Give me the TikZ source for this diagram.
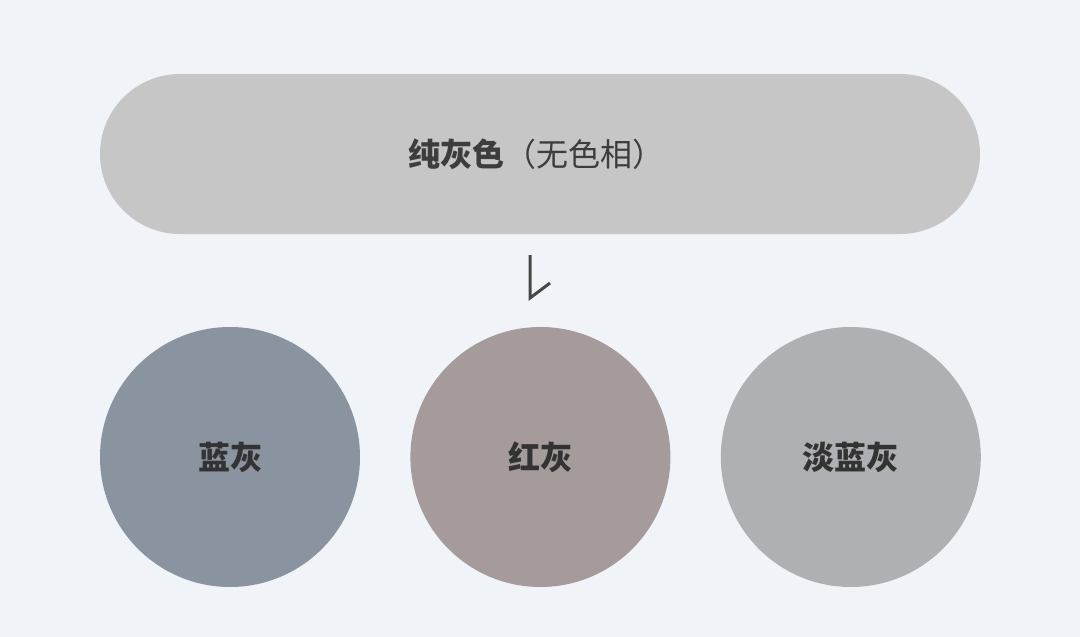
\documentclass[tikz,border=0pt]{standalone}
\usepackage{fontspec}
\usepackage{xcolor}
\usetikzlibrary{positioning}
\newfontfamily\cjk{Noto Sans CJK SC}
\definecolor{bgcol}{HTML}{F0F3F8}
\definecolor{pillcol}{HTML}{C6C6C6}
\definecolor{bluegray}{HTML}{8A93A0}
\definecolor{redgray}{HTML}{A59B9B}
\definecolor{lightgray}{HTML}{AFB0B3}
\definecolor{inkcol}{HTML}{333333}

\begin{document}
\begin{tikzpicture}[x=1pt,y=-1pt]
\tikzstyle{every node}+=[inner sep=0pt]
\tikzstyle{swatch}=[circle,minimum size=260pt,text=inkcol,font=\cjk\bfseries\fontsize{32pt}{36pt}\selectfont]
\fill [bgcol] (0,0) rectangle (1080,637);
\useasboundingbox (0,0) rectangle (1080,637);
% top pill
\node (pure) [fill=pillcol,rounded corners=80pt,minimum width=880pt,minimum height=160pt] at (540,154) {};
\node (pureText) [text=inkcol!95,font=\cjk\fontsize{32pt}{36pt}\selectfont] at ([xshift=-4pt]pure.center) {\textbf{纯灰色}（无色相）};
% down mark
\coordinate (mtop) at (530,255);
\coordinate (mbot) at (530,298);
\coordinate (mtip) at (550,283);
\draw [inkcol!90,line width=3pt,line join=miter] (mtop) -- (mbot) -- (mtip);
% three grays
\node (blue) [swatch,fill=bluegray] at (230,457) {蓝灰};
\node (red) [swatch,fill=redgray,right=50pt of blue] {红灰};
\node (light) [swatch,fill=lightgray,right=50pt of red] {淡蓝灰};
\end{tikzpicture}
\end{document}
